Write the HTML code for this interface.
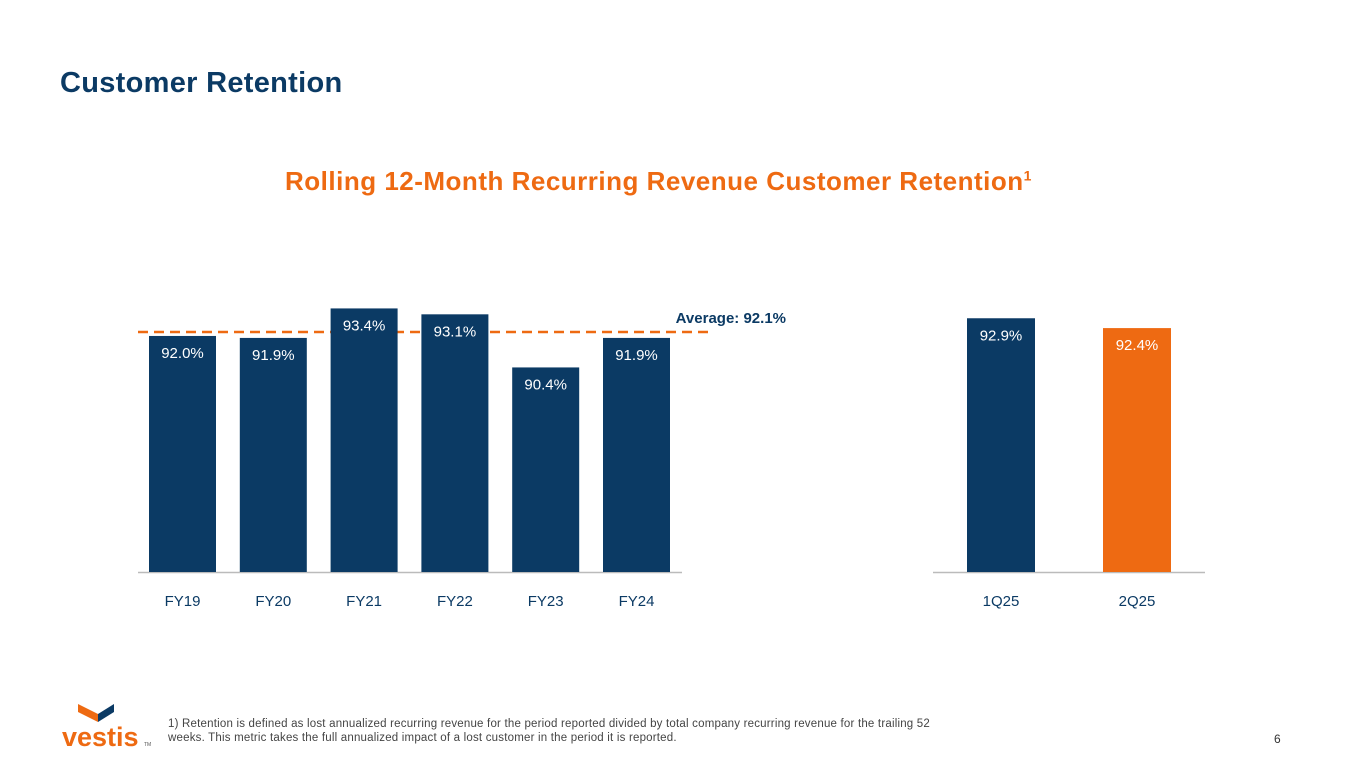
<!DOCTYPE html>
<html><head><meta charset="utf-8"><style>
body{margin:0;width:1365px;height:768px;background:#fff;font-family:"Liberation Sans",sans-serif;overflow:hidden;position:relative}
.t{position:absolute}
</style></head><body>
<div class="t" style="left:60px;top:67px;font-size:29px;font-weight:bold;color:#0b3a64;letter-spacing:0.3px">Customer Retention</div>
<div class="t" style="left:285px;top:166px;font-size:26px;font-weight:bold;color:#ee6a12;white-space:nowrap;letter-spacing:0.5px">Rolling 12-Month Recurring Revenue Customer Retention<sup style="font-size:14px">1</sup></div>
<svg id="chart" width="1365" height="768" style="position:absolute;left:0;top:0"></svg>
<div class="t" style="left:168px;top:717px;font-size:11.5px;line-height:14px;color:#444;width:820px;letter-spacing:0.2px">1) Retention is defined as lost annualized recurring revenue for the period reported divided by total company recurring revenue for the trailing 52<br>weeks. This metric takes the full annualized impact of a lost customer in the period it is reported.</div>
<div class="t" style="left:1274px;top:732px;font-size:12px;color:#333">6</div>
<svg class="t" style="left:60px;top:700px" width="95" height="50">
<polygon points="18,4 38,14 38,22 18,12" fill="#ee6a12"/><polygon points="38,14 54,4 54,12 38,22" fill="#0b3a64"/>
<text x="2" y="46" font-size="27" font-weight="bold" fill="#ee6a12" font-family="Liberation Sans,sans-serif">vestis</text>
<text x="84" y="46" font-size="5" fill="#555">TM</text></svg>
<script>
const catsA=["FY19","FY20","FY21","FY22","FY23","FY24"];
const valsA=[92.0,91.9,93.4,93.1,90.4,91.9];
const catsB=["1Q25","2Q25"];
const valsB=[92.9,92.4];
const average=92.1;
const svg=document.getElementById('chart');const NS='http://www.w3.org/2000/svg';
const base=572,ppu=19.67,min=80;
const y=v=>base-(v-min)*ppu;
function mk(t,a){const e=document.createElementNS(NS,t);for(const k in a)e.setAttribute(k,a[k]);svg.appendChild(e);return e;}
const avg=mk('line',{x1:138,x2:712,y1:y(average)-2,y2:y(average)-2,stroke:'#ee6a12','stroke-width':2.5,'stroke-dasharray':'10 6'});

const al=mk('text',{x:786,y:y(average)-11,'text-anchor':'end','font-size':15,'font-weight':'bold',fill:'#0b3a64'});al.textContent='Average: '+average.toFixed(1)+'%';

function group(cats,vals,x0,step,w,colors,ax1,ax2){
const ax=mk('line',{x1:ax1,x2:ax2,y1:base+0.5,y2:base+0.5,stroke:'#bbb','stroke-width':1.5});

cats.forEach((c,i)=>{const x=x0+i*step;const r=mk('rect',{x:x,y:y(vals[i]),width:w,height:base-y(vals[i]),fill:colors[i]});

const l=mk('text',{x:x+w/2,y:y(vals[i])+22,'text-anchor':'middle','font-size':15,fill:'#fff'});l.textContent=vals[i].toFixed(1)+'%';

const t=mk('text',{x:x+w/2,y:606,'text-anchor':'middle','font-size':15,fill:'#0b3a64'});t.textContent=c;
});}
group(catsA,valsA,149,90.8,67,valsA.map(()=>'#0b3a64'),138,682);
group(catsB,valsB,967,136,68,['#0b3a64','#ee6a12'],933,1205);
</script></body></html>
